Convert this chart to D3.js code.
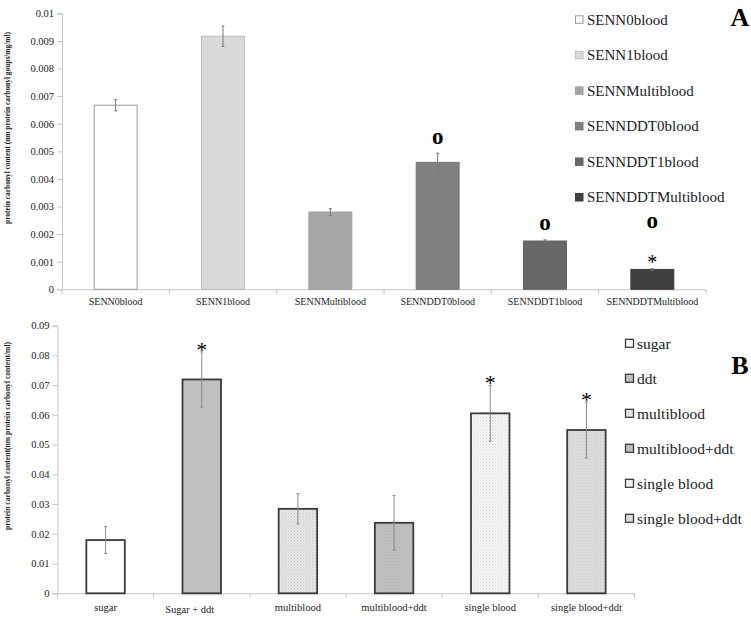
<!DOCTYPE html>
<html>
<head>
<meta charset="utf-8">
<script src="https://cdn.jsdelivr.net/npm/d3@7"></script>
<style>
  html, body { margin: 0; padding: 0; background: #fff; }
  svg { display: block; }
  svg text { font-family: "Liberation Serif", "DejaVu Serif", serif; }
</style>
</head>
<body>
<svg id="chart" width="751" height="626"></svg>
<script>
// ---------- Panel A data ----------
const categoriesA = ["SENN0blood", "SENN1blood", "SENNMultiblood", "SENNDDT0blood", "SENNDDT1blood", "SENNDDTMultiblood"];
const valuesA = [0.00667, 0.00917, 0.0028, 0.0046, 0.00175, 0.00072];
const errorsA = [0.0002, 0.00037, 0.00012, 0.00033, 0.00004, 0.00003];
const circleMarksA = ["", "", "", "o", "o", "o"];
const starMarksA = ["", "", "", "", "", "*"];
const ticksA = [0, 0.001, 0.002, 0.003, 0.004, 0.005, 0.006, 0.007, 0.008, 0.009, 0.01];
const fillsA = ["#ffffff", "#d9d9d9", "#a6a6a6", "#808080", "#686868", "#404040"];
const strokesA = ["#9a9a9a", "#bdbdbd", "#a0a0a0", "#7a7a7a", "#646464", "#3c3c3c"];
const yLabelA = "protein carbonyl content (nm protein carbonyl goups/mg/ml)";

// ---------- Panel B data ----------
const categoriesB = ["sugar", "Sugar + ddt", "multiblood", "multiblood+ddt", "single blood", "single blood+ddt"];
const legendB = ["sugar", "ddt", "multiblood", "multiblood+ddt", "single blood", "single blood+ddt"];
const valuesB = [0.0179, 0.0719, 0.0284, 0.0237, 0.0605, 0.0549];
const errorsB = [0.0045, 0.0093, 0.0051, 0.0092, 0.0094, 0.0094];
const starMarksB = ["", "*", "", "", "*", "*"];
const ticksB = [0, 0.01, 0.02, 0.03, 0.04, 0.05, 0.06, 0.07, 0.08, 0.09];
const fillsB = ["#ffffff", "#c0c0c0", "url(#patMulti)", "url(#patMultiDdt)", "url(#patSingle)", "url(#patSingleDdt)"];
const yLabelB = "protein carbonyl content(nm protein carbonyl content/ml)";

const FONT = "'Liberation Serif', 'DejaVu Serif', serif";
const svg = d3.select("#chart").attr("font-family", FONT);
const defs = svg.append("defs");

function dotPattern(id, bg, dot) {
  const p = defs.append("pattern").attr("id", id).attr("patternUnits", "userSpaceOnUse")
    .attr("width", 3).attr("height", 3);
  p.append("rect").attr("width", 3).attr("height", 3).attr("fill", bg);
  p.append("rect").attr("x", 0).attr("y", 0).attr("width", 1).attr("height", 1).attr("fill", dot);
  p.append("rect").attr("x", 1.5).attr("y", 1.5).attr("width", 1).attr("height", 1).attr("fill", dot);
}
dotPattern("patMulti", "#e8e8e8", "#c8c8c8");
dotPattern("patMultiDdt", "#c2c2c2", "#b0b0b0");
dotPattern("patSingle", "#f7f7f7", "#d8d8d8");
dotPattern("patSingleDdt", "#dedede", "#cacaca");

const axisColor = "#c6c6c6";
const textColor = "#222";

// ================= Panel A =================
{
  const x = d3.scaleBand().domain(categoriesA).range([62, 706]).paddingInner(0.6).paddingOuter(0.3);
  const xb = d3.scaleBand().domain(categoriesA).range([62, 706]);
  const y = d3.scaleLinear().domain([0, 0.01]).range([289.3, 13.3]);
  const g = svg.append("g");

  const ya = g.append("g").attr("transform", "translate(62,0)")
    .call(d3.axisLeft(y).tickValues(ticksA).tickSize(5).tickPadding(3).tickFormat(d => d === 0 ? "0" : String(+d.toFixed(3))));
  ya.attr("font-family", FONT);
  ya.select(".domain").attr("stroke", axisColor);
  ya.selectAll(".tick line").attr("stroke", axisColor);
  ya.selectAll(".tick text").attr("fill", textColor).attr("font-size", 10.5);

  const xa = g.append("g").attr("transform", "translate(0,289.3)")
    .call(d3.axisBottom(xb).tickSize(0).tickPadding(9));
  xa.attr("font-family", FONT);
  xa.select(".domain").attr("stroke", axisColor);
  xa.selectAll(".tick text").attr("fill", textColor).attr("font-size", 10);
  g.selectAll(".bt").data(categoriesA.concat(["__end"])).enter().append("line")
    .attr("x1", (d, i) => i < categoriesA.length ? xb(d) : 706)
    .attr("x2", (d, i) => i < categoriesA.length ? xb(d) : 706)
    .attr("y1", 289.3).attr("y2", 294.3).attr("stroke", axisColor);

  g.selectAll(".barA").data(valuesA).enter().append("rect")
    .attr("x", (d, i) => x(categoriesA[i]))
    .attr("y", d => y(d))
    .attr("width", x.bandwidth())
    .attr("height", d => y(0) - y(d))
    .attr("fill", (d, i) => fillsA[i])
    .attr("stroke", (d, i) => strokesA[i])
    .attr("stroke-width", 1);

  const eg = g.selectAll(".errA").data(valuesA).enter().append("g");
  eg.append("line")
    .attr("x1", (d, i) => x(categoriesA[i]) + x.bandwidth() / 2)
    .attr("x2", (d, i) => x(categoriesA[i]) + x.bandwidth() / 2)
    .attr("y1", (d, i) => y(d + errorsA[i])).attr("y2", (d, i) => y(d - errorsA[i]))
    .attr("stroke", "#777").attr("stroke-width", 1);
  ["+", "-"].forEach(s => {
    eg.append("line")
      .attr("x1", (d, i) => x(categoriesA[i]) + x.bandwidth() / 2 - 1.5)
      .attr("x2", (d, i) => x(categoriesA[i]) + x.bandwidth() / 2 + 1.5)
      .attr("y1", (d, i) => y(s === "+" ? d + errorsA[i] : d - errorsA[i]))
      .attr("y2", (d, i) => y(s === "+" ? d + errorsA[i] : d - errorsA[i]))
      .attr("stroke", "#777").attr("stroke-width", 1);
  });

  valuesA.forEach((v, i) => {
    const cx = x(categoriesA[i]) + x.bandwidth() / 2;
    const top = y(v + errorsA[i]);
    let starC = null;
    if (starMarksA[i]) {
      starC = top - 10;
      g.append("text").attr("x", cx).attr("y", starC + 10).attr("text-anchor", "middle")
        .attr("font-size", 20).attr("fill", "#000").text(starMarksA[i]);
    }
    if (circleMarksA[i]) {
      const oc = starC !== null ? starC - 36 : top - 15;
      g.append("text").attr("x", cx).attr("y", oc + 5.5).attr("text-anchor", "middle")
        .attr("font-size", 23).attr("font-weight", "bold").attr("fill", "#000").text(circleMarksA[i]);
    }
  });

  g.append("text").attr("transform", "translate(10,128) rotate(-90)").attr("text-anchor", "middle")
    .attr("font-size", 7.4).attr("font-weight", "bold").attr("fill", textColor).text(yLabelA);

  const ly = d3.scalePoint().domain(categoriesA).range([19.3, 197]);
  const lg = g.selectAll(".legA").data(categoriesA).enter().append("g")
    .attr("transform", d => `translate(575,${ly(d)})`);
  lg.append("rect").attr("x", 0.5).attr("y", -3.5).attr("width", 7.5).attr("height", 7.5)
    .attr("fill", (d, i) => fillsA[i]).attr("stroke", (d, i) => strokesA[i]);
  lg.append("text").attr("x", 12).attr("y", 5.2).attr("font-size", 15).attr("fill", textColor).text(d => d);

  g.append("text").attr("x", 740).attr("y", 26).attr("text-anchor", "middle")
    .attr("font-size", 26).attr("font-weight", "bold").attr("fill", "#000").text("A");
}

// ================= Panel B =================
{
  const x = d3.scaleBand().domain(categoriesB).range([57.5, 634.5]).paddingInner(0.6).paddingOuter(0.3);
  const xb = d3.scaleBand().domain(categoriesB).range([57.5, 634.5]);
  const y = d3.scaleLinear().domain([0, 0.09]).range([593.3, 325.6]);
  const g = svg.append("g");

  const ya = g.append("g").attr("transform", "translate(57.5,0)")
    .call(d3.axisLeft(y).tickValues(ticksB).tickSize(5).tickPadding(3).tickFormat(d => d === 0 ? "0" : String(+d.toFixed(2))));
  ya.attr("font-family", FONT);
  ya.select(".domain").attr("stroke", axisColor);
  ya.selectAll(".tick line").attr("stroke", axisColor);
  ya.selectAll(".tick text").attr("fill", textColor).attr("font-size", 10.5);

  const xa = g.append("g").attr("transform", "translate(0,593.3)")
    .call(d3.axisBottom(xb).tickSize(0).tickPadding(10));
  xa.attr("font-family", FONT);
  xa.select(".domain").attr("stroke", axisColor);
  xa.selectAll(".tick text").attr("fill", textColor).attr("font-size", 10.5);
  xa.selectAll(".tick text").filter(d => d === "Sugar + ddt").attr("dx", -12).attr("dy", "0.9em");
  g.selectAll(".bt").data(categoriesB.concat(["__end"])).enter().append("line")
    .attr("x1", (d, i) => i < categoriesB.length ? xb(d) : 634.5)
    .attr("x2", (d, i) => i < categoriesB.length ? xb(d) : 634.5)
    .attr("y1", 593.3).attr("y2", 598.3).attr("stroke", axisColor);

  g.selectAll(".barB").data(valuesB).enter().append("rect")
    .attr("x", (d, i) => x(categoriesB[i]))
    .attr("y", d => y(d))
    .attr("width", x.bandwidth())
    .attr("height", d => y(0) - y(d))
    .attr("fill", (d, i) => fillsB[i])
    .attr("stroke", "#3a3a3a")
    .attr("stroke-width", 1.8);

  const eg = g.selectAll(".errB").data(valuesB).enter().append("g");
  eg.append("line")
    .attr("x1", (d, i) => x(categoriesB[i]) + x.bandwidth() / 2)
    .attr("x2", (d, i) => x(categoriesB[i]) + x.bandwidth() / 2)
    .attr("y1", (d, i) => y(d + errorsB[i])).attr("y2", (d, i) => y(d - errorsB[i]))
    .attr("stroke", "#888").attr("stroke-width", 1);
  ["+", "-"].forEach(s => {
    eg.append("line")
      .attr("x1", (d, i) => x(categoriesB[i]) + x.bandwidth() / 2 - 1.5)
      .attr("x2", (d, i) => x(categoriesB[i]) + x.bandwidth() / 2 + 1.5)
      .attr("y1", (d, i) => y(s === "+" ? d + errorsB[i] : d - errorsB[i]))
      .attr("y2", (d, i) => y(s === "+" ? d + errorsB[i] : d - errorsB[i]))
      .attr("stroke", "#888").attr("stroke-width", 1);
  });

  valuesB.forEach((v, i) => {
    if (!starMarksB[i]) return;
    const cx = x(categoriesB[i]) + x.bandwidth() / 2;
    const top = y(v + errorsB[i]);
    g.append("text").attr("x", cx).attr("y", top - 6 + 11).attr("text-anchor", "middle")
      .attr("font-size", 22).attr("fill", "#000").text(starMarksB[i]);
  });

  g.append("text").attr("transform", "translate(10,436) rotate(-90)").attr("text-anchor", "middle")
    .attr("font-size", 7.6).attr("font-weight", "bold").attr("fill", textColor).text(yLabelB);

  const ly = d3.scalePoint().domain(legendB).range([343.3, 518.3]);
  const lg = g.selectAll(".legB").data(legendB).enter().append("g")
    .attr("transform", d => `translate(625,${ly(d)})`);
  lg.append("rect").attr("x", 0.5).attr("y", -4).attr("width", 8).attr("height", 8)
    .attr("fill", (d, i) => fillsB[i]).attr("stroke", "#3a3a3a").attr("stroke-width", 1.3);
  lg.append("text").attr("x", 12).attr("y", 5.5).attr("font-size", 15.5).attr("fill", textColor).text(d => d);

  g.append("text").attr("x", 740).attr("y", 373.5).attr("text-anchor", "middle")
    .attr("font-size", 26).attr("font-weight", "bold").attr("fill", "#000").text("B");
}
</script>
</body>
</html>
